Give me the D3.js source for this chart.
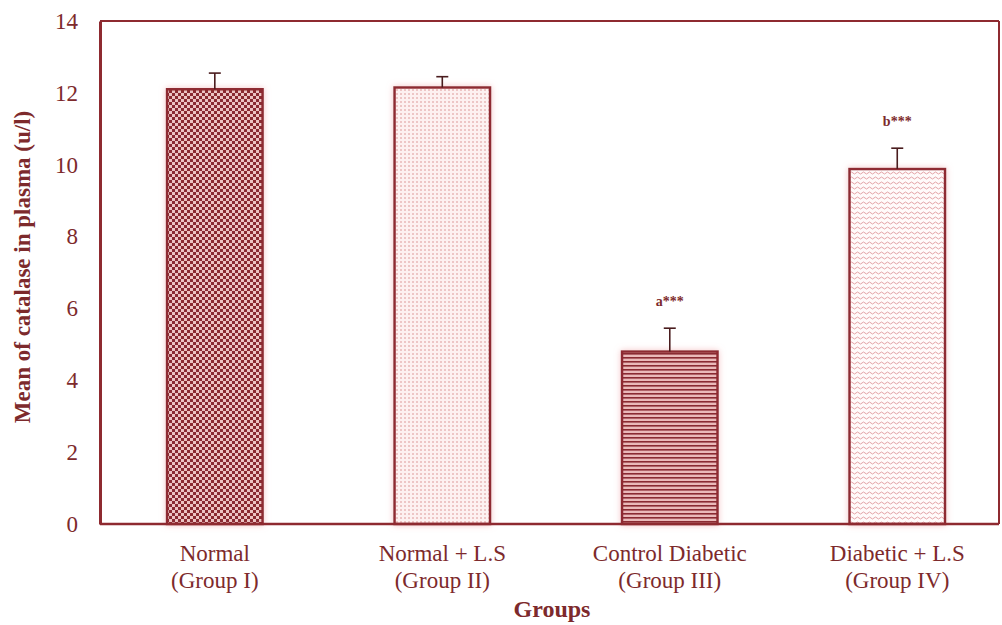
<!DOCTYPE html>
<html>
<head>
<meta charset="utf-8">
<script src="https://cdn.jsdelivr.net/npm/d3@7"></script>
<style>
  html, body { margin: 0; padding: 0; background: #fff; }
  svg { display: block; }
  text { font-family: "Liberation Serif", "DejaVu Serif", serif; }
</style>
</head>
<body>
<svg id="chart" width="1002" height="625"></svg>
<script>
// Catalase activity in plasma by group
const groupLines = [
  ["Normal", "(Group I)"],
  ["Normal + L.S", "(Group II)"],
  ["Control Diabetic", "(Group III)"],
  ["Diabetic + L.S", "(Group IV)"]
];
const groupIds = ["g1", "g2", "g3", "g4"];
const means = [12.1, 12.15, 4.8, 9.88];
const errors = [0.45, 0.3, 0.65, 0.58];
const significance = ["", "", "a***", "b***"];
const yTicks = [0, 2, 4, 6, 8, 10, 12, 14];
const patternIds = ["checker", "dots", "stripes", "waves"];

const svg = d3.select("#chart");
const W = 1002, H = 625;
const margin = { top: 21, right: 3, bottom: 101, left: 100 };
const innerW = W - margin.left - margin.right;
const innerH = H - margin.top - margin.bottom;

const dark = "#8e2a30";
const textCol = "#7d2a2c";

// fill patterns
const defs = svg.append("defs");

const checker = defs.append("pattern").attr("id", "checker")
  .attr("width", 6).attr("height", 6).attr("patternUnits", "userSpaceOnUse");
checker.append("rect").attr("width", 6).attr("height", 6).attr("fill", "#ecc3c3");
checker.append("rect").attr("width", 3).attr("height", 3).attr("fill", "#8a2b31");
checker.append("rect").attr("x", 3).attr("y", 3).attr("width", 3).attr("height", 3).attr("fill", "#8a2b31");

const dots = defs.append("pattern").attr("id", "dots")
  .attr("width", 4).attr("height", 4).attr("patternUnits", "userSpaceOnUse");
dots.append("rect").attr("width", 4).attr("height", 4).attr("fill", "#fdf1f1");
dots.append("rect").attr("width", 2).attr("height", 2).attr("fill", "#edc6c6");

const stripes = defs.append("pattern").attr("id", "stripes")
  .attr("width", 4).attr("height", 4).attr("patternUnits", "userSpaceOnUse");
stripes.append("rect").attr("width", 4).attr("height", 4).attr("fill", "#eab9b9");
stripes.append("rect").attr("y", 0).attr("width", 4).attr("height", 1.6).attr("fill", "#8a2b31");

const waves = defs.append("pattern").attr("id", "waves")
  .attr("width", 6).attr("height", 5).attr("patternUnits", "userSpaceOnUse");
waves.append("rect").attr("width", 6).attr("height", 5).attr("fill", "#fffafa");
waves.append("path").attr("d", "M0,2 L1.5,1 L3,2 L4.5,3 L6,2")
  .attr("fill", "none").attr("stroke", "#e3a3a6").attr("stroke-width", 1);

// soft pink halo round the bars
const glow = defs.append("filter").attr("id", "halo")
  .attr("x", "-10%").attr("y", "-10%").attr("width", "120%").attr("height", "120%");
glow.append("feGaussianBlur").attr("in", "SourceAlpha").attr("stdDeviation", 3).attr("result", "b");
glow.append("feFlood").attr("flood-color", "#f2b5b8").attr("flood-opacity", 0.8);
glow.append("feComposite").attr("in2", "b").attr("operator", "in").attr("result", "g");
const mg = glow.append("feMerge");
mg.append("feMergeNode").attr("in", "g");
mg.append("feMergeNode").attr("in", "SourceGraphic");

const g = svg.append("g").attr("transform", `translate(${margin.left},${margin.top})`);

const x = d3.scaleBand().domain(groupIds).range([0, innerW])
  .paddingInner(0.58).paddingOuter(0.266).align(0.554);
const y = d3.scaleLinear().domain([0, 14]).range([innerH, 0]);

// frame
g.append("line").attr("x1", 0).attr("x2", innerW).attr("y1", 0).attr("y2", 0)
  .attr("stroke", dark).attr("stroke-width", 2);
g.append("line").attr("x1", innerW).attr("x2", innerW).attr("y1", 0).attr("y2", innerH)
  .attr("stroke", dark).attr("stroke-width", 2);

// bars
const bars = g.selectAll(".bar").data(groupIds).enter().append("g").attr("class", "bar");
bars.append("rect")
  .attr("x", d => x(d))
  .attr("y", (d, i) => y(means[i]))
  .attr("width", x.bandwidth())
  .attr("height", (d, i) => innerH - y(means[i]))
  .attr("fill", (d, i) => `url(#${patternIds[i]})`)
  .attr("stroke", dark)
  .attr("stroke-width", 2.5)
  .attr("filter", "url(#halo)");

// error bars (upper only)
bars.append("line")
  .attr("x1", d => x(d) + x.bandwidth() / 2)
  .attr("x2", d => x(d) + x.bandwidth() / 2)
  .attr("y1", (d, i) => y(means[i]))
  .attr("y2", (d, i) => y(means[i] + errors[i]))
  .attr("stroke", "#4a1c1e").attr("stroke-width", 1.6);
bars.append("line")
  .attr("x1", d => x(d) + x.bandwidth() / 2 - 6)
  .attr("x2", d => x(d) + x.bandwidth() / 2 + 6)
  .attr("y1", (d, i) => y(means[i] + errors[i]))
  .attr("y2", (d, i) => y(means[i] + errors[i]))
  .attr("stroke", "#4a1c1e").attr("stroke-width", 1.6);

// significance marks
bars.append("text")
  .attr("x", d => x(d) + x.bandwidth() / 2)
  .attr("y", (d, i) => y(means[i] + errors[i]) - 22)
  .attr("text-anchor", "middle")
  .attr("font-size", 14)
  .attr("font-weight", "bold")
  .attr("fill", textCol)
  .text((d, i) => significance[i]);

// y axis
const yAxis = d3.axisLeft(y).tickValues(yTicks).tickSize(0).tickPadding(22);
const ya = g.append("g").call(yAxis);
ya.select(".domain").attr("stroke", dark).attr("stroke-width", 3);
ya.selectAll("text").attr("font-size", 23).attr("fill", textCol)
  .attr("font-family", "Liberation Serif, serif");

// x axis baseline across the plot width
g.append("line").attr("x1", 0).attr("x2", innerW).attr("y1", innerH).attr("y2", innerH)
  .attr("stroke", dark).attr("stroke-width", 2.5);

// category labels, two lines each
groupIds.forEach((id, i) => {
  const cx = x(id) + x.bandwidth() / 2;
  const t = g.append("text")
    .attr("x", cx)
    .attr("y", innerH + 37)
    .attr("text-anchor", "middle")
    .attr("font-size", 23)
    .attr("fill", textCol);
  groupLines[i].forEach((ln, k) => {
    t.append("tspan").attr("x", cx).attr("dy", k === 0 ? 0 : 27).text(ln);
  });
});

// axis titles
svg.append("text")
  .attr("x", 552).attr("y", 617)
  .attr("text-anchor", "middle")
  .attr("font-size", 24).attr("font-weight", "bold")
  .attr("fill", textCol)
  .text("Groups");

svg.append("text")
  .attr("transform", "translate(30,267) rotate(-90)")
  .attr("text-anchor", "middle")
  .attr("font-size", 23).attr("font-weight", "bold")
  .attr("fill", textCol)
  .text("Mean of catalase in plasma (u/l)");
</script>
</body>
</html>
